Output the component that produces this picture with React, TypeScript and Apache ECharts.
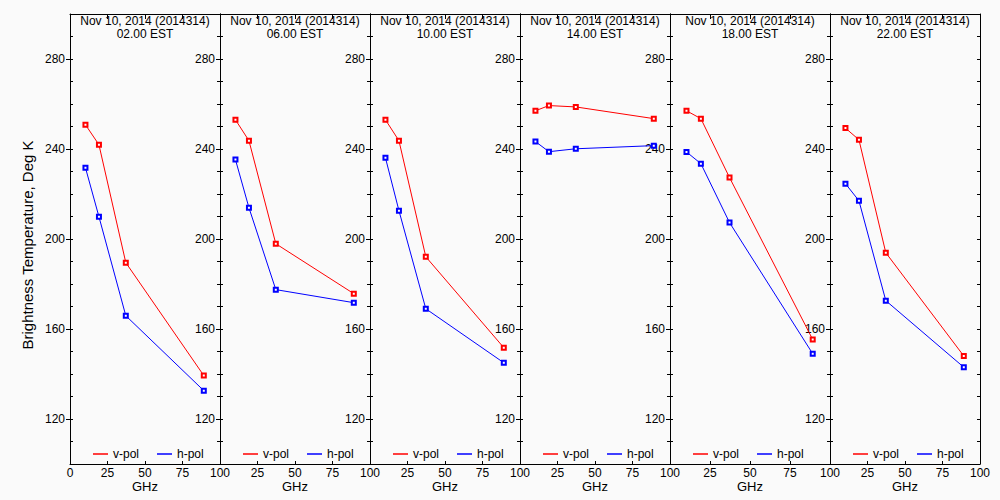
import React, { useEffect, useRef } from "react";
import * as echarts from "echarts";

// GHz channel positions
const frequencies = [10.3, 19.3, 37.2, 89.2];
const dateLabel = "Nov 10, 2014 (2014314)";
const timeLabels = ["02.00 EST", "06.00 EST", "10.00 EST", "14.00 EST", "18.00 EST", "22.00 EST"];
const seriesNames = ["v-pol", "h-pol"];
const yMajorTicks = [120, 160, 200, 240, 280];

// Brightness temperatures, Deg K
const vPol02 = [250.8, 241.9, 189.5, 139.3];
const hPol02 = [231.7, 209.9, 165.9, 132.6];
const vPol06 = [253.0, 243.7, 197.9, 175.7];
const hPol06 = [235.3, 213.9, 177.5, 171.7];
const vPol10 = [253.0, 243.7, 192.1, 151.7];
const hPol10 = [236.1, 212.6, 169.0, 145.0];
const vPol14 = [257.0, 259.3, 258.7, 253.5];
const hPol14 = [243.3, 238.8, 240.1, 241.5];
const vPol18 = [257.0, 253.5, 227.3, 155.3];
const hPol18 = [238.7, 233.5, 207.3, 149.0];
const vPol22 = [249.3, 244.1, 193.9, 148.0];
const hPol22 = [224.6, 217.0, 172.6, 143.0];

const vPolSets = [vPol02, vPol06, vPol10, vPol14, vPol18, vPol22];
const hPolSets = [hPol02, hPol06, hPol10, hPol14, hPol18, hPol22];

const panelLefts = [70, 220, 370, 520, 670, 830];
const panelWidths = [150, 150, 150, 150, 160, 150];
const TOP = 14;
const HEIGHT = 450;
const FONT = "Liberation Sans";
const RED = "#ff0000";
const BLUE = "#0000ff";
const BG = "#fafafa";

export default function App() {
  const ref = useRef<HTMLDivElement>(null);

  useEffect(() => {
    if (!ref.current) return;
    const chart = echarts.init(ref.current, null, { renderer: "svg" });

    const grids: any[] = [];
    const xAxes: any[] = [];
    const yAxes: any[] = [];
    const series: any[] = [];
    const legends: any[] = [];
    const graphics: any[] = [];
    const axisLine = { show: true, onZero: false, lineStyle: { color: "#000", width: 1 } };

    panelLefts.forEach((left, i) => {
      const width = panelWidths[i];
      grids.push({ left, top: TOP, width, height: HEIGHT, containLabel: false });

      xAxes.push({
        gridIndex: i, type: "value", min: 0, max: 100, interval: 25, position: "bottom",
        axisLine, axisTick: { show: true, inside: true, length: 3, lineStyle: { color: "#000" } },
        axisLabel: { show: true, margin: 3, color: "#000", fontSize: 12, fontFamily: FONT, showMinLabel: i === 0 },
        splitLine: { show: false },
      });
      xAxes.push({
        gridIndex: i, type: "value", min: 0, max: 100, interval: 25, position: "top",
        axisLine, axisTick: { show: true, inside: true, length: 5, lineStyle: { color: "#000" } },
        axisLabel: { show: false }, splitLine: { show: false },
      });

      yAxes.push({
        gridIndex: i, type: "value", min: 100, max: 300, position: "left",
        axisLine,
        axisTick: { show: true, inside: false, length: 4, customValues: yMajorTicks, lineStyle: { color: "#000" } },
        axisLabel: { show: true, margin: 5, color: "#000", fontSize: 12, fontFamily: FONT, customValues: yMajorTicks },
        splitLine: { show: false },
      });
      yAxes.push({
        gridIndex: i, type: "value", min: 100, max: 300, interval: 10, position: "left",
        axisLine: { show: false, onZero: false },
        axisTick: { show: true, inside: true, length: 3, lineStyle: { color: "#000" } },
        axisLabel: { show: false }, splitLine: { show: false },
      });
      yAxes.push({
        gridIndex: i, type: "value", min: 100, max: 300, interval: 10, position: "right",
        axisLine,
        axisTick: { show: true, inside: true, length: 3, lineStyle: { color: "#000" } },
        axisLabel: { show: false }, splitLine: { show: false },
      });

      const mk = (name: string, vals: number[], color: string) => ({
        type: "line", name, xAxisIndex: 2 * i, yAxisIndex: 3 * i,
        data: frequencies.map((f, k) => [f, vals[k]]),
        symbol: "emptyRect", symbolSize: 4, showSymbol: true,
        itemStyle: { color, borderWidth: 1 },
        lineStyle: { color, width: 1 },
        emphasis: { disabled: true }, silent: true,
      });
      series.push(mk(seriesNames[0], vPolSets[i], RED));
      series.push(mk(seriesNames[1], hPolSets[i], BLUE));

      legends.push({
        left: left + 18, top: 443, orient: "horizontal", icon: "rect",
        itemWidth: 15, itemHeight: 1.5, itemGap: 18, selectedMode: false,
        textStyle: { color: "#000", fontSize: 12, fontFamily: FONT },
        data: [
          { name: seriesNames[0], itemStyle: { color: RED } },
          { name: seriesNames[1], itemStyle: { color: BLUE } },
        ],
      });

      const cx = left + width / 2;
      graphics.push({
        type: "text", x: cx, y: 21, silent: true,
        style: { text: dateLabel, fill: "#000", font: `12px "${FONT}"`, textAlign: "center", textVerticalAlign: "middle" },
      });
      graphics.push({
        type: "text", x: cx, y: 34, silent: true,
        style: { text: timeLabels[i], fill: "#000", font: `12px "${FONT}"`, textAlign: "center", textVerticalAlign: "middle" },
      });
      graphics.push({
        type: "text", x: cx, y: 486, silent: true,
        style: { text: "GHz", fill: "#000", font: `13px "${FONT}"`, textAlign: "center", textVerticalAlign: "middle" },
      });
    });

    graphics.push({
      type: "text", x: 27, y: 245, rotation: Math.PI / 2, silent: true,
      style: {
        text: "Brightness Temperature, Deg K", fill: "#000", font: `15px "${FONT}"`,
        textAlign: "center", textVerticalAlign: "middle",
      },
    });

    chart.setOption({
      animation: false,
      backgroundColor: BG,
      grid: grids,
      xAxis: xAxes,
      yAxis: yAxes,
      series,
      legend: legends,
      graphic: graphics,
    });

    return () => chart.dispose();
  }, []);

  return (
    <div
      ref={ref}
      style={{ position: "absolute", left: 0, top: 0, width: 1000, height: 500, background: BG }}
    />
  );
}
